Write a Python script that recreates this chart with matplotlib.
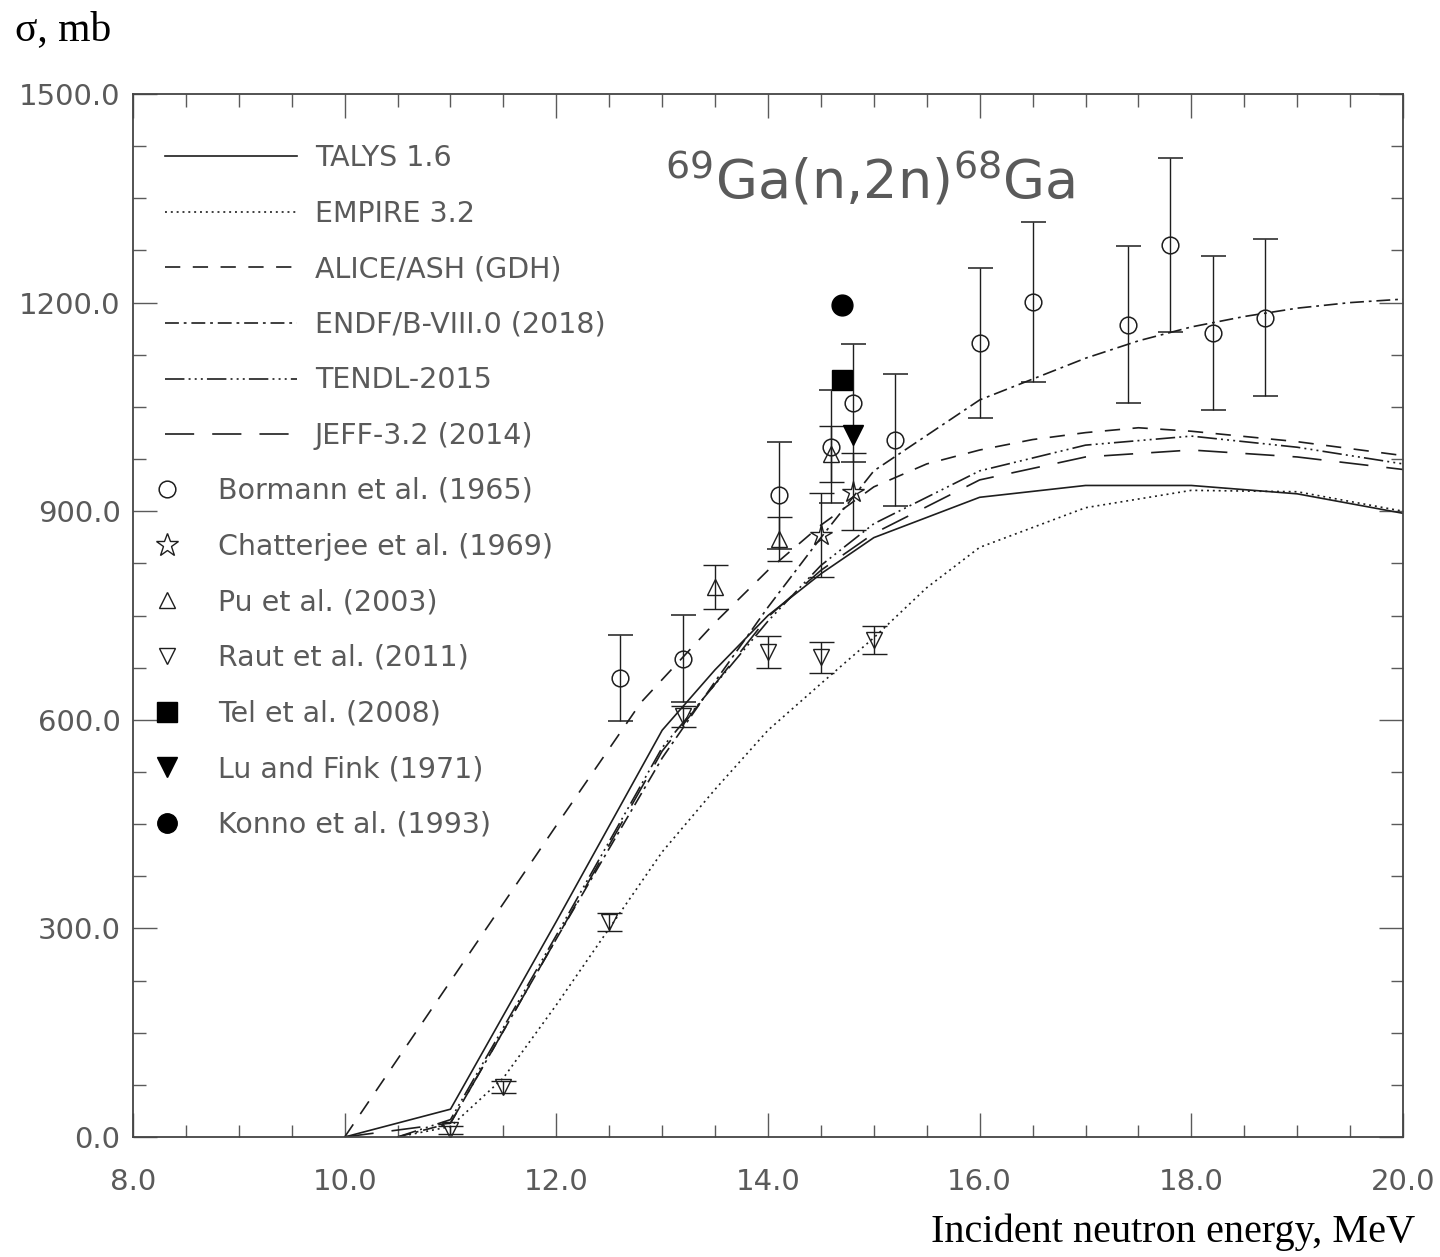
import matplotlib
matplotlib.use('Agg')
import matplotlib.pyplot as plt
from matplotlib.lines import Line2D
from matplotlib.ticker import MultipleLocator, FormatStrFormatter
import numpy as np

plt.rcParams['lines.scale_dashes'] = False
plt.rcParams['mathtext.fontset'] = 'dejavusans'

# --- evaluated cross sections (E in MeV, sigma in mb) ---
talys_e = [10.0, 11.0, 12.0, 13.0, 13.5, 14.0, 14.5, 15.0, 16.0, 17.0, 18.0, 19.0, 20.0]
talys_s = [0, 40, 310, 585, 672, 750, 810, 862, 920, 937, 937, 925, 897]

empire_e = [10.5, 11.0, 11.5, 12.0, 12.5, 13.0, 13.5, 14.0, 14.5, 15.0, 15.5, 16.0, 17.0, 18.0, 19.0, 20.0]
empire_s = [0, 15, 85, 190, 300, 410, 500, 585, 652, 718, 790, 848, 905, 930, 928, 900]

alice_e = [10.0, 11.0, 12.0, 12.8, 13.5, 14.0, 14.5, 15.0, 15.5, 16.0, 16.5, 17.0, 17.5, 18.0, 19.0, 20.0]
alice_s = [0, 224, 448, 625, 740, 815, 880, 935, 968, 988, 1003, 1013, 1020, 1015, 1000, 980]

endf_e = [10.5, 11.0, 12.0, 12.5, 13.0, 13.5, 14.0, 14.5, 15.0, 16.0, 16.5, 17.0, 17.5, 18.0, 18.5, 19.0, 19.5, 20.0]
endf_s = [0, 20, 285, 415, 545, 655, 762, 862, 958, 1060, 1090, 1120, 1145, 1165, 1180, 1192, 1200, 1205]

tendl_e = [10.5, 11.0, 12.0, 13.0, 14.0, 14.5, 15.0, 16.0, 17.0, 18.0, 19.0, 20.0]
tendl_s = [0, 25, 290, 560, 742, 822, 882, 958, 995, 1008, 992, 968]

jeff_e = [10.0, 11.0, 12.0, 13.0, 14.0, 14.5, 15.0, 16.0, 17.0, 18.0, 19.0, 20.0]
jeff_s = [0, 20, 285, 555, 748, 815, 868, 945, 978, 988, 978, 960]

# --- experimental data ---
bormann_e = [12.6, 13.2, 14.1, 14.6, 14.8, 15.2, 16.0, 16.5, 17.4, 17.8, 18.2, 18.7]
bormann_s = [660, 688, 923, 993, 1056, 1002, 1142, 1201, 1168, 1283, 1156, 1178]
bormann_d = [62, 63, 77, 81, 85, 95, 108, 115, 113, 125, 111, 113]

chatterjee_e = [14.5, 14.8]
chatterjee_s = [866, 928]
chatterjee_d = [60, 55]

pu_e = [13.5, 14.1, 14.6]
pu_s = [791, 860, 982]
pu_d = [31, 32, 40]

raut_e = [11.0, 11.5, 12.5, 13.2, 14.0, 14.5, 15.0]
raut_s = [10, 72, 309, 605, 698, 690, 715]
raut_d = [6, 9, 13, 15, 23, 22, 20]

tel_e = [14.7]
tel_s = [1089]
lu_e = [14.8]
lu_s = [1010]
konno_e = [14.7]
konno_s = [1197]

ink = '#1e1e1e'
grey = '#5a5a5a'
lw = 1.2

fig = plt.figure(figsize=(14.4, 12.57), dpi=100)
ax = fig.add_axes([133/1440, 1 - 1137/1257, 1270/1440, 1043/1257])

curves = [
    (talys_e, talys_s, 'TALYS 1.6', '-'),
    (empire_e, empire_s, 'EMPIRE 3.2', (0, (1.4, 2.8))),
    (alice_e, alice_s, 'ALICE/ASH (GDH)', (0, (11, 9))),
    (endf_e, endf_s, 'ENDF/B-VIII.0 (2018)', (0, (10, 3.5, 2, 3.5))),
    (tendl_e, tendl_s, 'TENDL-2015', (0, (14, 3, 1.4, 3, 1.4, 3, 1.4, 3))),
    (jeff_e, jeff_s, 'JEFF-3.2 (2014)', (0, (21, 13))),
]
line_handles = []
for e, s, lab, ls in curves:
    h, = ax.plot(e, s, linestyle=ls, color=ink, lw=lw, label=lab)
    line_handles.append(h)

eb = dict(color=ink, lw=1.0, capsize=9, capthick=1.0, ls='none')
ax.errorbar(bormann_e, bormann_s, yerr=bormann_d, marker='o', ms=12, mfc='none', mec=ink, mew=1.1, **eb)
ax.errorbar(chatterjee_e, chatterjee_s, yerr=chatterjee_d, marker='*', ms=16, mfc='none', mec=ink, mew=1.0, **eb)
ax.errorbar(pu_e, pu_s, yerr=pu_d, marker='^', ms=11, mfc='none', mec=ink, mew=1.0, **eb)
ax.errorbar(raut_e, raut_s, yerr=raut_d, marker='v', ms=11, mfc='none', mec=ink, mew=1.0, **eb)
ax.plot(tel_e, tel_s, ls='none', marker='s', ms=15, color='black')
ax.plot(lu_e, lu_s, ls='none', marker='v', ms=15, color='black')
ax.plot(konno_e, konno_s, ls='none', marker='o', ms=15, color='black')

ax.set_xlim(8, 20)
ax.set_ylim(0, 1500)
ax.xaxis.set_major_locator(MultipleLocator(2))
ax.xaxis.set_minor_locator(MultipleLocator(0.5))
ax.yaxis.set_major_locator(MultipleLocator(300))
ax.yaxis.set_minor_locator(MultipleLocator(75))
ax.xaxis.set_major_formatter(FormatStrFormatter('%.1f'))
ax.yaxis.set_major_formatter(FormatStrFormatter('%.1f'))
ax.tick_params(which='both', direction='in', top=True, right=True, color=grey, width=1.0)
ax.tick_params(which='major', length=17)
ax.tick_params(which='minor', length=9)
ax.tick_params(axis='x', which='major', labelsize=21, labelcolor=grey, pad=22)
ax.tick_params(axis='y', which='major', labelsize=21, labelcolor=grey, pad=9)
for sp in ax.spines.values():
    sp.set_color('#444444')
    sp.set_linewidth(1.3)

ax.text(0.419, 0.9, r'$^{69}$Ga(n,2n)$^{68}$Ga', transform=ax.transAxes,
        fontsize=39, color=grey, va='baseline', ha='left')

leg1 = ax.legend(handles=line_handles, loc='upper left',
                 bbox_to_anchor=(165/1440, 1 - 144/1257), bbox_transform=fig.transFigure,
                 frameon=False, fontsize=20.5, handlelength=4.63, handletextpad=0.63,
                 labelspacing=0.97, borderpad=0, borderaxespad=0, labelcolor=grey)
ax.add_artist(leg1)

mk = [
    Line2D([], [], ls='none', marker='o', ms=12, mfc='none', mec=ink, mew=1.1, label='Bormann et al. (1965)'),
    Line2D([], [], ls='none', marker='*', ms=17, mfc='none', mec=ink, mew=1.0, label='Chatterjee et al. (1969)'),
    Line2D([], [], ls='none', marker='^', ms=12, mfc='none', mec=ink, mew=1.0, label='Pu et al. (2003)'),
    Line2D([], [], ls='none', marker='v', ms=12, mfc='none', mec=ink, mew=1.0, label='Raut et al. (2011)'),
    Line2D([], [], ls='none', marker='s', ms=14, color='black', label='Tel et al. (2008)'),
    Line2D([], [], ls='none', marker='v', ms=14, color='black', label='Lu and Fink (1971)'),
    Line2D([], [], ls='none', marker='o', ms=14, color='black', label='Konno et al. (1993)'),
]
ax.legend(handles=mk, loc='upper left',
          bbox_to_anchor=(154/1440, 1 - 477/1257), bbox_transform=fig.transFigure,
          frameon=False, fontsize=20.5, handlelength=0.91, handletextpad=1.33,
          labelspacing=0.97, borderpad=0, borderaxespad=0, labelcolor=grey)

fig.text(15/1440, 1 - 30/1257, 'σ, mb', family='Liberation Serif', fontsize=30,
         va='center', ha='left', color='black')
fig.text(1415/1440, 1 - 1232/1257, 'Incident neutron energy, MeV', family='Liberation Serif',
         fontsize=29, va='center', ha='right', color='black')

fig.savefig('out.png', dpi=100)
